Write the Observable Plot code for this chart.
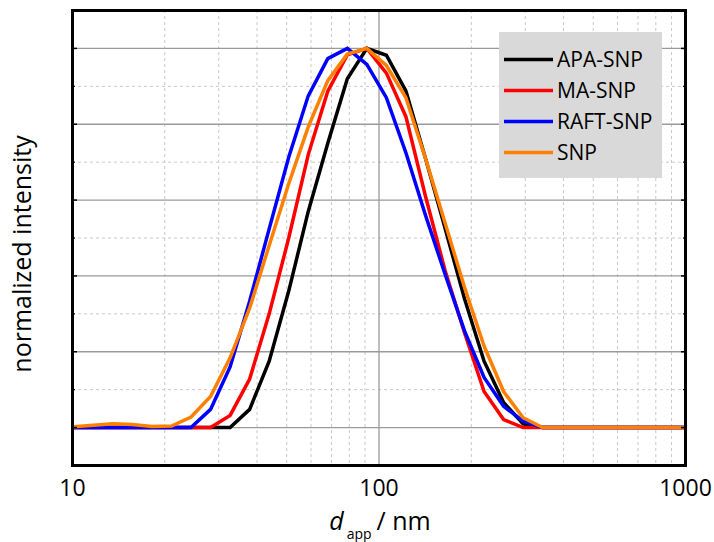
<!DOCTYPE html>
<html>
<head>
<meta charset="utf-8">
<script src="https://cdn.jsdelivr.net/npm/d3@7"></script>
<script src="https://cdn.jsdelivr.net/npm/@observablehq/plot@0.6"></script>
<style>
  html, body { margin: 0; padding: 0; background: #fff; }
  #chart svg { display: block; }
</style>
</head>
<body>
<div id="chart"></div>
<script>
// Size bins (nm), log-spaced
const sizes = [8.72,10.10,11.70,13.54,15.69,18.17,21.04,24.36,28.21,32.67,37.84,43.82,50.75,58.77,68.06,78.82,91.28,105.7,122.4,141.8,164.2,190.1,220.2,255.0,295.3,342.0,396.1,458.7,531.2,615.1,712.4,825.0,955.4,1106];

// normalized intensity per series
const apaSNP  = [0,0,0,0,0,0,0,0,0, 0,0.048,0.175,0.36,0.57,0.75,0.92,1.0,0.982,0.888,0.71,0.526,0.34,0.175,0.066,0.01,0, 0,0,0,0,0,0,0,0];
const maSNP   = [0,0,0,0,0,0,0,0,0, 0.032,0.128,0.30,0.50,0.72,0.887,0.983,1.0,0.935,0.82,0.61,0.415,0.25,0.095,0.021,0,0, 0,0,0,0,0,0,0,0];
const raftSNP = [0,0,0,0,0,0,0,0,0.048, 0.16,0.333,0.524,0.713,0.875,0.973,1.0,0.958,0.87,0.725,0.56,0.405,0.255,0.132,0.056,0.017,0, 0,0,0,0,0,0,0,0];
const snp     = [0.002,0.002,0.006,0.01,0.008,0.003,0.004,0.028,0.082, 0.184,0.315,0.48,0.643,0.793,0.915,0.985,1.0,0.955,0.87,0.71,0.54,0.37,0.215,0.095,0.026,0, 0,0,0,0,0,0,0,0];

const seriesNames = ["APA-SNP","MA-SNP","RAFT-SNP","SNP"];
const seriesValues = [apaSNP, maSNP, raftSNP, snp];
const seriesColors = ["#000000","#ff0000","#0000ff","#ff8000"];

const xTickValues = [10, 100, 1000];
const xMinorGrid = [20,30,40,50,60,70,80,90,200,300,400,500,600,700,800,900];
const xMajorGrid = [100];
const yMajorGrid = [0,0.2,0.4,0.6,0.8,1.0];
const yMinorGrid = [0.1,0.3,0.5,0.7,0.9];

const rows = [];
seriesNames.forEach((name, i) => {
  sizes.forEach((d, j) => rows.push({series: name, d, v: seriesValues[i][j]}));
});

const FONT = "'Open Sans', sans-serif";

const lineMarks = seriesNames.map((name, i) =>
  Plot.line(rows.filter(r => r.series === name), {
    x: "d", y: "v", stroke: seriesColors[i], strokeWidth: 3.5, clip: true, strokeLinejoin: "miter", strokeMiterlimit: 4
  })
);

const chart = Plot.plot({
  width: 714,
  height: 542,
  marginLeft: 72,
  marginRight: 29,
  marginTop: 10,
  marginBottom: 77,
  style: {fontFamily: FONT, background: "#fff", color: "#000"},
  x: {type: "log", domain: [10, 1000]},
  y: {domain: [-0.1, 1.1]},
  marks: [
    Plot.ruleX(xMinorGrid, {stroke: "#c8c8c8", strokeWidth: 1, strokeDasharray: "3,3"}),
    Plot.ruleY(yMinorGrid, {stroke: "#c8c8c8", strokeWidth: 1, strokeDasharray: "3,3"}),
    Plot.ruleX(xMajorGrid, {stroke: "#9a9a9a", strokeWidth: 1.3}),
    Plot.ruleY(yMajorGrid, {stroke: "#9a9a9a", strokeWidth: 1.3}),
    ...lineMarks,
    Plot.axisY(yMajorGrid, {anchor: "left", tickSize: -5, tickFormat: () => "", label: null, strokeWidth: 1.5}),
    Plot.axisY(yMinorGrid, {anchor: "left", tickSize: -3, tickFormat: () => "", label: null, strokeWidth: 1.2}),
    Plot.axisY(yMajorGrid, {anchor: "right", tickSize: -5, tickFormat: () => "", label: null, strokeWidth: 1.5}),
    Plot.axisY(yMinorGrid, {anchor: "right", tickSize: -3, tickFormat: () => "", label: null, strokeWidth: 1.2}),
    Plot.axisX(xTickValues, {anchor: "bottom", tickSize: 0, tickPadding: 14, fontSize: 23, tickFormat: d => String(d), label: null}),
    Plot.frame({stroke: "#000", strokeWidth: 3})
  ]
});

const svg = d3.select(chart);
svg.style("overflow", "visible");

// Legend (inside plot, top-right)
const leg = svg.append("g").attr("font-family", FONT).attr("font-size", 21).attr("text-anchor", "start");
leg.append("rect").attr("x", 499).attr("y", 32).attr("width", 163).attr("height", 146).attr("fill", "#d9d9d9");
seriesNames.forEach((name, i) => {
  const yy = 59.5 + i * 31;
  leg.append("line").attr("x1", 504).attr("x2", 553).attr("y1", yy).attr("y2", yy)
    .attr("stroke", seriesColors[i]).attr("stroke-width", 3.4);
  leg.append("text").attr("x", 557).attr("y", yy + 7.5).attr("text-anchor", "start").attr("fill", "#000").text(name);
});

// X axis title: d_app / nm
const xt = svg.append("text").attr("x", 380).attr("y", 530).attr("text-anchor", "middle")
  .attr("font-family", FONT).attr("font-size", 25).attr("fill", "#000");
xt.append("tspan").attr("font-style", "italic").text("d");
xt.append("tspan").attr("font-size", 14).attr("dy", 9).attr("dx", 3).text("app");
xt.append("tspan").attr("dy", -9).attr("dx", 5).text("/ nm");

// Y axis title
svg.append("text").attr("transform", "translate(31,254) rotate(-90)").attr("text-anchor", "middle")
  .attr("font-family", FONT).attr("font-size", 25).attr("fill", "#000").text("normalized intensity");

document.getElementById("chart").appendChild(chart);
</script>
</body>
</html>
